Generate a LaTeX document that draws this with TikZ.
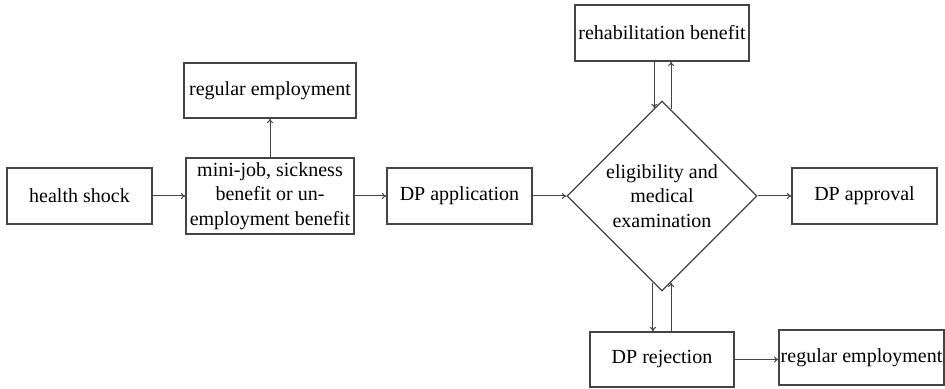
\documentclass[tikz,border=0pt]{standalone}
\usepackage{fontspec}
\setmainfont{Liberation Serif}
\usetikzlibrary{shapes.geometric,arrows.meta}
\definecolor{lc}{HTML}{444444}
\begin{document}
\begin{tikzpicture}[x=0.5pt,y=-0.5pt,
  box/.style={draw=lc,line width=0.6pt,rectangle,inner sep=0pt,align=center,text=black,font=\fontsize{10}{12.2}\selectfont},
  dia/.style={draw=lc,line width=0.6pt,diamond,aspect=1,inner sep=0pt,minimum width=95pt,minimum height=95pt,align=center,font=\fontsize{10}{12.2}\selectfont},
  arr/.style={draw=lc,line width=0.5pt,-{To[length=2.2pt,width=3pt]}}]
\useasboundingbox (0,0) rectangle (945,389);
\node[box,minimum width=72.5pt,minimum height=28pt] (hs) at (79.5,196) {health shock};
\node[box,minimum width=84pt,minimum height=38pt] (mj) at (270,196) {mini-job, sickness\\benefit or un-\\employment benefit};
\node[box,minimum width=86pt,minimum height=27.5pt] (re1) at (270,90.5) {regular employment};
\node[box,minimum width=72.5pt,minimum height=28pt] (app) at (459.5,196) {DP application};
\node[dia] (el) at (662,196) {eligibility and\\medical\\examination};
\node[box,minimum width=87pt,minimum height=28pt] (rb) at (662,33) {rehabilitation benefit};
\node[box,minimum width=72.5pt,minimum height=28pt] (apr) at (864.5,196) {DP approval};
\node[box,minimum width=72pt,minimum height=27.5pt] (rej) at (662,359.5) {DP rejection};
\node[box,minimum width=82.5pt,minimum height=27.5pt] (re2) at (861.5,357.5) {regular employment};
\draw[arr] (hs) -- (mj);
\draw[arr] (mj) -- (re1);
\draw[arr] (mj) -- (app);
\draw[arr] (app.east) -- (el.west);
\draw[arr] (el.east) -- (apr.west);
\draw[arr] (el.95.25 |- rb.south) -- (el.95.25);
\draw[arr] (el.84) -- (el.84 |- rb.south);
\draw[arr] (el.264.75) -- (el.264.75 |- rej.north);
\draw[arr] (el.276 |- rej.north) -- (el.276);
\draw[arr] (rej.east) -- (rej.east -| re2.west);
\end{tikzpicture}
\end{document}
